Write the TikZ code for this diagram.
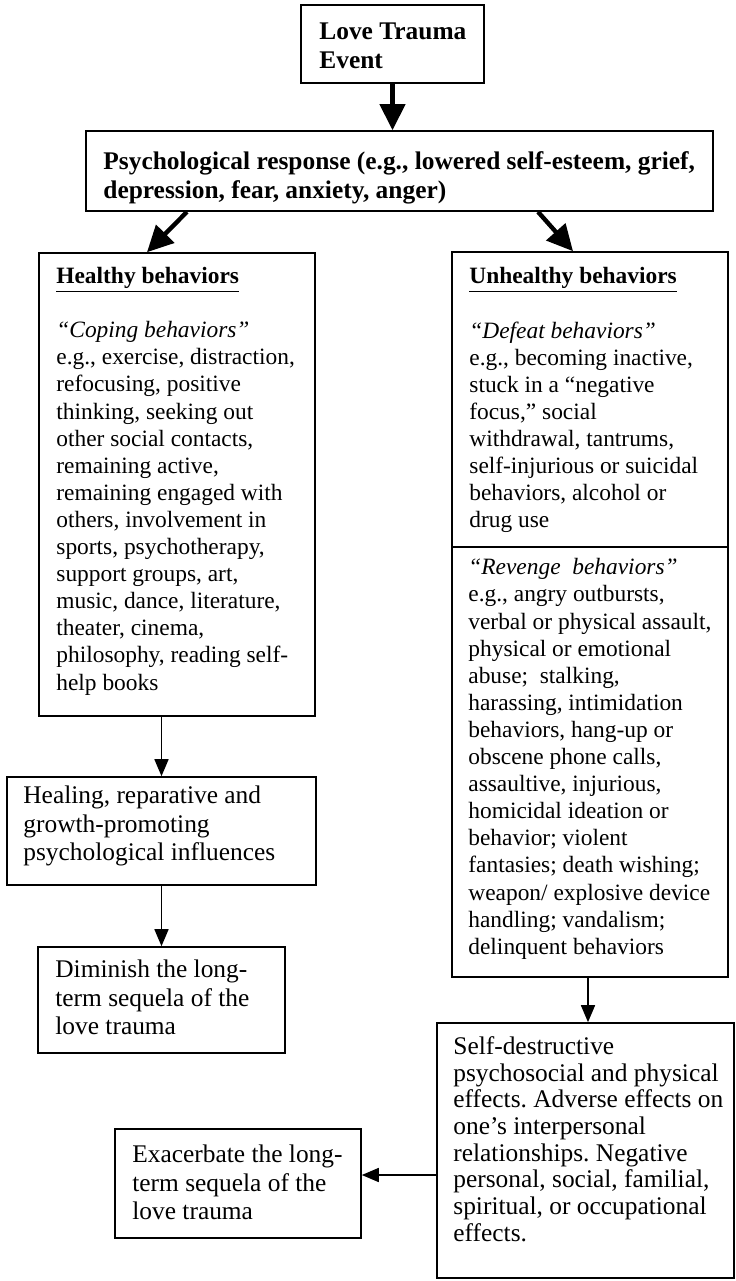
\documentclass[tikz,border=0pt]{standalone}
\usepackage{fontspec}
\setmainfont{Liberation Serif}
\usetikzlibrary{arrows.meta,fit}
\frenchspacing
\begin{document}
\begin{tikzpicture}[x=0.5pt,y=-0.5pt,
  box/.style={draw, line width=0.8pt, inner sep=0pt},
  txt/.style={anchor=north west, inner sep=0pt, align=left},
  fs/.style={font=\fontsize{11.7pt}{13.55pt}\selectfont},
  fl/.style={font=\fontsize{12.7pt}{14.3pt}\selectfont},
  fself/.style={font=\fontsize{12.7pt}{13.35pt}\selectfont},
  fb/.style={font=\bfseries\fontsize{12.7pt}{14.6pt}\selectfont},
  heavy/.style={line width=2.2pt, -{Triangle[length=13pt,width=12.5pt]}},
  light/.style={line width=0.8pt, -{Triangle[length=8.5pt,width=7pt]}}]

\fill[white] (0,0) rectangle (735,1281);
\useasboundingbox (0,0) rectangle (735,1281);

% boxes
\node[box, fit={(301,5) (484,83)}] (love) {};
\node[box, fit={(86,131) (713,211)}] (psych) {};
\node[box, fit={(39,253) (315,716)}] (healthy) {};
\node[box, fit={(452,252) (728,547)}] (defeat) {};
\node[box, fit={(452,547) (728,977)}] (revenge) {};
\node[box, fit={(7,777) (316,885)}] (healing) {};
\node[box, fit={(38,947) (285,1053)}] (diminish) {};
\node[box, fit={(115,1129) (361,1238)}] (exacerbate) {};
\node[box, fit={(437,1023) (734,1278)}] (selfdest) {};

% texts
\node[txt, fb] (loveT) at (319,18.3) {\strut Love Trauma\\Event};
\node[txt, fb] (psychT) at (103,148.3) {\strut Psychological response (e.g., lowered self-esteem, grief,\\depression, fear, anxiety, anger)};
\node[txt, fs] (healthyT) at (56,264.2) {\strut\underline{\textbf{Healthy behaviors}}\\[13.55pt]
\textit{“Coping behaviors”}\\
e.g., exercise, distraction,\\
refocusing, positive\\
thinking, seeking out\\
other social contacts,\\
remaining active,\\
remaining engaged with\\
others, involvement in\\
sports, psychotherapy,\\
support groups, art,\\
music, dance, literature,\\
theater, cinema,\\
philosophy, reading self-\\
help books};
\node[txt, fs] (defeatT) at (469,264.5) {\strut\underline{\textbf{Unhealthy behaviors}}\\[13.55pt]
\textit{“Defeat behaviors”}\\
e.g., becoming inactive,\\
stuck in a “negative\\
focus,” social\\
withdrawal, tantrums,\\
self-injurious or suicidal\\
behaviors, alcohol or\\
drug use};
\node[txt, fs] (revengeT) at (468,555.5) {\strut\textit{“Revenge\ \ behaviors”}\\
e.g., angry outbursts,\\
verbal or physical assault,\\
physical or emotional\\
abuse;\ \ stalking,\\
harassing, intimidation\\
behaviors, hang-up or\\
obscene phone calls,\\
assaultive, injurious,\\
homicidal ideation or\\
behavior; violent\\
fantasies; death wishing;\\
weapon/ explosive device\\
handling; vandalism;\\
delinquent behaviors};
\node[txt, fl] (healingT) at (23,783) {\strut Healing, reparative and\\growth-promoting\\psychological influences};
\node[txt, fl] (diminishT) at (55,957) {\strut Diminish the long-\\term sequela of the\\love trauma};
\node[txt, fl] (exacerbateT) at (132,1142) {\strut Exacerbate the long-\\term sequela of the\\love trauma};
\node[txt, fself] (selfdestT) at (453,1035.3) {\strut Self-destructive\\
psychosocial and physical\\
effects. Adverse effects on\\
one’s interpersonal\\
relationships. Negative\\
personal, social, familial,\\
spiritual, or occupational\\
effects.};

% connectors
\draw[heavy] (love.south) -- (love.south |- psych.north);
\draw[heavy] ([xshift=-106.25pt]psych.south) -- ([xshift=-15pt]healthy.north);
\draw[heavy] ([xshift=69.25pt]psych.south) -- ([xshift=-8.5pt]defeat.north);
\draw[light] (healing.north |- healthy.south) -- (healing.north);
\draw[light] (healing.south) -- (healing.south |- diminish.north);
\draw[light] ([xshift=-1pt]revenge.south) -- ([xshift=-1pt]revenge.south |- selfdest.north);
\coordinate (exIn) at ([yshift=4.25pt]exacerbate.east);
\draw[light] (selfdest.west |- exIn) -- (exIn);
\end{tikzpicture}
\end{document}
